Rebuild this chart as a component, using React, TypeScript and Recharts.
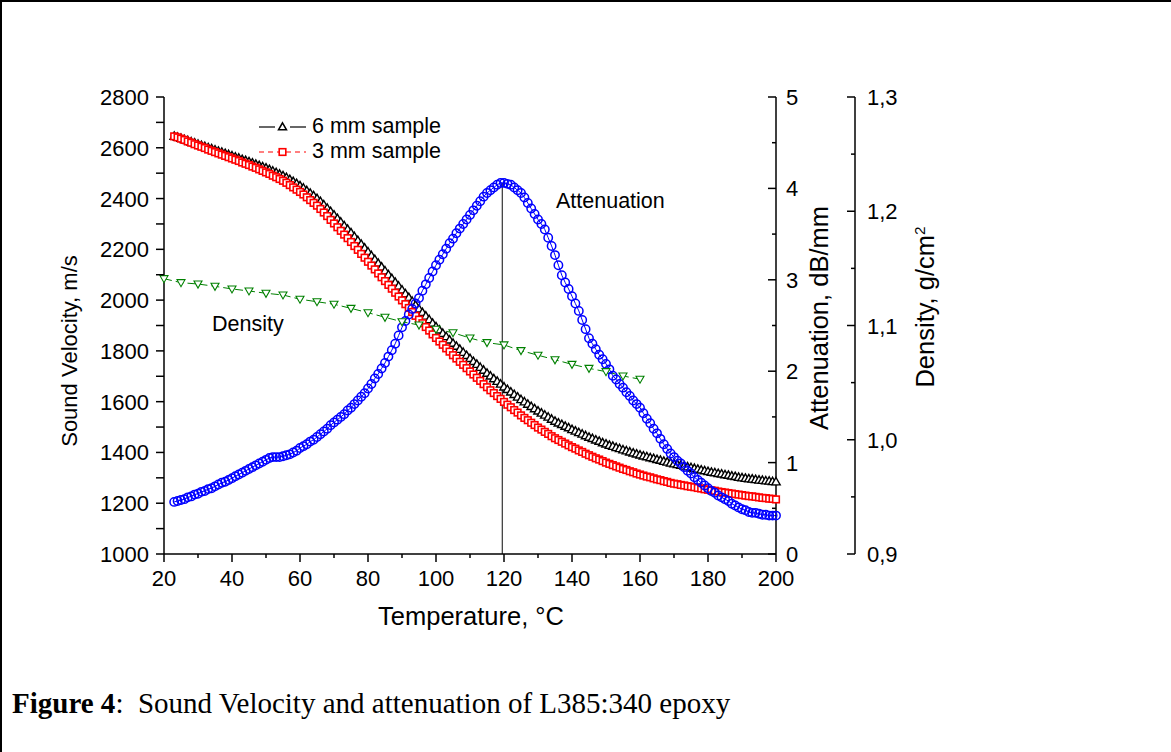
import { LineChart, Line, XAxis, YAxis, ReferenceLine, Legend } from "recharts";

// temperature grid of the velocity / attenuation scans, °C
const tempGrid = [
  23, 24, 25, 26, 27, 28, 29, 30, 31, 32, 33, 34, 35, 36, 37, 38, 39, 40, 41, 42, 43, 44, 45, 46, 47, 48, 49, 50,
  51, 52, 53, 54, 55, 56, 57, 58, 59, 60, 61, 62, 63, 64, 65, 66, 67, 68, 69, 70, 71, 72, 73, 74, 75, 76, 77, 78,
  79, 80, 81, 82, 83, 84, 85, 86, 87, 88, 89, 90, 91, 92, 93, 94, 95, 96, 97, 98, 99, 100, 101, 102, 103, 104, 105,
  106, 107, 108, 109, 110, 111, 112, 113, 114, 115, 116, 117, 118, 119, 120, 121, 122, 123, 124, 125, 126, 127, 128,
  129, 130, 131, 132, 133, 134, 135, 136, 137, 138, 139, 140, 141, 142, 143, 144, 145, 146, 147, 148, 149, 150, 151,
  152, 153, 154, 155, 156, 157, 158, 159, 160, 161, 162, 163, 164, 165, 166, 167, 168, 169, 170, 171, 172, 173, 174,
  175, 176, 177, 178, 179, 180, 181, 182, 183, 184, 185, 186, 187, 188, 189, 190, 191, 192, 193, 194, 195, 196, 197,
  198, 199, 200,
];

// sound velocity, 6 mm sample, m/s
const velocity6mm = [
  2645, 2641, 2637, 2632, 2628, 2623, 2619, 2614, 2609, 2605, 2600, 2596, 2591, 2586, 2582, 2577, 2573, 2568, 2563,
  2559, 2554, 2550, 2545, 2540, 2535, 2530, 2525, 2520, 2514, 2508, 2502, 2496, 2490, 2483, 2475, 2467, 2459, 2450,
  2441, 2431, 2421, 2411, 2400, 2388, 2375, 2362, 2349, 2335, 2321, 2307, 2293, 2279, 2265, 2250, 2235, 2220, 2205,
  2190, 2175, 2160, 2145, 2130, 2115, 2100, 2085, 2070, 2055, 2040, 2025, 2010, 1995, 1980, 1965, 1951, 1937, 1923,
  1909, 1895, 1882, 1869, 1856, 1843, 1830, 1818, 1806, 1794, 1782, 1770, 1758, 1747, 1735, 1724, 1712, 1701, 1690,
  1680, 1669, 1658, 1648, 1638, 1628, 1618, 1608, 1599, 1590, 1581, 1572, 1563, 1555, 1547, 1539, 1531, 1523, 1516,
  1510, 1503, 1497, 1490, 1484, 1478, 1472, 1466, 1460, 1455, 1449, 1444, 1438, 1433, 1428, 1424, 1419, 1415, 1410,
  1406, 1402, 1398, 1394, 1390, 1386, 1383, 1379, 1376, 1372, 1369, 1365, 1362, 1358, 1355, 1352, 1349, 1346, 1343,
  1340, 1337, 1334, 1331, 1328, 1325, 1322, 1320, 1317, 1315, 1312, 1310, 1307, 1305, 1302, 1300, 1298, 1296, 1295,
  1293, 1291, 1290, 1288, 1287, 1285, 1284,
];

// sound velocity, 3 mm sample, m/s
const velocity3mm = [
  2645, 2641, 2636, 2631, 2625, 2620, 2614, 2609, 2604, 2599, 2593, 2588, 2583, 2578, 2573, 2568, 2563, 2558, 2553,
  2548, 2542, 2537, 2532, 2526, 2521, 2515, 2509, 2503, 2497, 2490, 2484, 2477, 2470, 2462, 2453, 2444, 2435, 2426,
  2416, 2405, 2394, 2383, 2372, 2359, 2345, 2331, 2316, 2302, 2287, 2273, 2258, 2244, 2229, 2213, 2198, 2182, 2167,
  2151, 2136, 2121, 2105, 2090, 2075, 2060, 2045, 2029, 2014, 1999, 1984, 1969, 1953, 1938, 1923, 1909, 1894, 1880,
  1865, 1851, 1837, 1824, 1810, 1797, 1783, 1770, 1757, 1745, 1732, 1719, 1707, 1694, 1682, 1669, 1657, 1645, 1634,
  1622, 1611, 1599, 1588, 1578, 1567, 1557, 1546, 1536, 1527, 1517, 1508, 1498, 1490, 1481, 1473, 1464, 1456, 1449,
  1442, 1435, 1428, 1421, 1415, 1408, 1402, 1395, 1389, 1383, 1377, 1372, 1366, 1360, 1355, 1350, 1345, 1340, 1335,
  1331, 1326, 1322, 1317, 1313, 1309, 1305, 1302, 1298, 1294, 1291, 1287, 1284, 1280, 1277, 1275, 1272, 1270, 1267,
  1265, 1263, 1260, 1258, 1255, 1253, 1251, 1249, 1246, 1244, 1242, 1240, 1238, 1236, 1234, 1232, 1230, 1228, 1227,
  1225, 1223, 1221, 1220, 1218, 1217, 1215,
];

// attenuation, dB/mm
const attenuation = [
  0.57, 0.58, 0.59, 0.6, 0.62, 0.63, 0.65, 0.66, 0.68, 0.69, 0.71, 0.72, 0.74, 0.76, 0.78, 0.79, 0.81, 0.83, 0.85,
  0.87, 0.89, 0.91, 0.93, 0.95, 0.97, 0.99, 1.01, 1.03, 1.05, 1.06, 1.06, 1.06, 1.07, 1.08, 1.09, 1.11, 1.13, 1.16,
  1.18, 1.2, 1.23, 1.25, 1.28, 1.31, 1.34, 1.37, 1.41, 1.44, 1.47, 1.5, 1.53, 1.57, 1.6, 1.64, 1.68, 1.72, 1.76,
  1.81, 1.86, 1.92, 1.97, 2.03, 2.09, 2.16, 2.23, 2.3, 2.39, 2.48, 2.55, 2.62, 2.68, 2.74, 2.8, 2.88, 2.95, 3.02,
  3.09, 3.16, 3.22, 3.28, 3.34, 3.4, 3.45, 3.51, 3.56, 3.61, 3.66, 3.71, 3.76, 3.81, 3.86, 3.91, 3.95, 3.98, 4.01,
  4.04, 4.06, 4.06, 4.05, 4.04, 4.01, 3.98, 3.95, 3.9, 3.84, 3.78, 3.72, 3.66, 3.61, 3.55, 3.46, 3.37, 3.27, 3.16,
  3.05, 2.97, 2.9, 2.82, 2.74, 2.66, 2.56, 2.46, 2.36, 2.3, 2.24, 2.18, 2.13, 2.08, 2.02, 1.95, 1.91, 1.86, 1.82,
  1.77, 1.73, 1.68, 1.64, 1.6, 1.54, 1.48, 1.43, 1.37, 1.32, 1.26, 1.2, 1.15, 1.1, 1.06, 1.02, 0.99, 0.95, 0.91,
  0.88, 0.84, 0.81, 0.78, 0.75, 0.72, 0.69, 0.67, 0.64, 0.62, 0.6, 0.58, 0.55, 0.53, 0.51, 0.49, 0.48, 0.46, 0.45,
  0.45, 0.44, 0.43, 0.43, 0.42, 0.42, 0.42,
];

// density, g/cm2
const densityTemps = [20, 25, 30, 35, 40, 45, 50, 55, 60, 65, 70, 75, 80, 85, 90, 95, 100, 105, 110, 115, 120, 125, 130, 135, 140, 145, 150, 155, 160];
const density = [
  1.141, 1.1375, 1.1363, 1.1343, 1.132, 1.1302, 1.1282, 1.1267, 1.123, 1.1208, 1.1186, 1.115, 1.1112, 1.1072, 1.1033,
  1.1004, 1.0967, 1.0937, 1.089, 1.085, 1.083, 1.078, 1.074, 1.07, 1.066, 1.0625, 1.0596, 1.0558, 1.053,
];

const peakTemp = 119.5;
const peakAttenuation = 4.06;

const tempTicks = [20, 30, 40, 50, 60, 70, 80, 90, 100, 110, 120, 130, 140, 150, 160, 170, 180, 190, 200];
const velocityTicks = [1000, 1100, 1200, 1300, 1400, 1500, 1600, 1700, 1800, 1900, 2000, 2100, 2200, 2300, 2400, 2500, 2600, 2700, 2800];
const attenuationTicks = [0, 0.5, 1, 1.5, 2, 2.5, 3, 3.5, 4, 4.5, 5];
const densityTicks = [0.9, 0.95, 1.0, 1.05, 1.1, 1.15, 1.2, 1.25, 1.3];

const rows = tempGrid.map((t, i) => ({ t, v6: velocity6mm[i], v3: velocity3mm[i], att: attenuation[i] }));
const densityRows = densityTemps.map((t, i) => ({ t, dens: density[i] }));

const FONT = "'Liberation Sans', Arial, sans-serif";
const TICK_FS = 22;
const NOTE_FS = 21.5;
const axisLine = { stroke: "#000", strokeWidth: 1.5 };

const isMultiple = (v: number, step: number) => Math.abs(v / step - Math.round(v / step)) < 1e-6;

const bottomTick = (p: any) => {
  const v = p.payload.value;
  const major = isMultiple(v, 20);
  return (
    <g>
      <line x1={p.x} y1={p.y} x2={p.x} y2={p.y + (major ? 8 : 4)} stroke="#000" strokeWidth={1.5} />
      {major && (
        <text x={p.x} y={p.y + 32} textAnchor="middle" fontFamily={FONT} fontSize={TICK_FS} fill="#000">
          {v}
        </text>
      )}
    </g>
  );
};

const leftTick = (p: any) => {
  const v = p.payload.value;
  return (
    <g>
      <line x1={p.x - 8} y1={p.y} x2={p.x} y2={p.y} stroke="#000" strokeWidth={1.5} />
      {isMultiple(v, 200) && (
        <text x={p.x - 15} y={p.y + 8} textAnchor="end" fontFamily={FONT} fontSize={TICK_FS} fill="#000">
          {v}
        </text>
      )}
    </g>
  );
};

const attTick = (p: any) => {
  const v = p.payload.value;
  const major = isMultiple(v, 1);
  return (
    <g>
      <line x1={p.x - (major ? 8 : 4)} y1={p.y} x2={p.x} y2={p.y} stroke="#000" strokeWidth={1.5} />
      {major && (
        <text x={p.x + 10} y={p.y + 8} textAnchor="start" fontFamily={FONT} fontSize={TICK_FS} fill="#000">
          {v}
        </text>
      )}
    </g>
  );
};

const densTick = (p: any) => {
  const v = p.payload.value;
  const major = isMultiple(v, 0.1);
  return (
    <g>
      <line x1={p.x - (major ? 8 : 4)} y1={p.y} x2={p.x} y2={p.y} stroke="#000" strokeWidth={1.5} />
      {major && (
        <text x={p.x + 12} y={p.y + 8} textAnchor="start" fontFamily={FONT} fontSize={TICK_FS} fill="#000">
          {v.toFixed(1).replace(".", ",")}
        </text>
      )}
    </g>
  );
};

const triUp = (p: any) => (
  <path
    key={`b${p.index}`}
    d={`M${p.cx},${p.cy - 4.4}L${p.cx + 4.2},${p.cy + 3}L${p.cx - 4.2},${p.cy + 3}Z`}
    fill="#fff"
    stroke="#000"
    strokeWidth={1.4}
  />
);

const square = (p: any) => (
  <rect key={`r${p.index}`} x={p.cx - 3.3} y={p.cy - 3.3} width={6.6} height={6.6} fill="#fff" stroke="#ff0000" strokeWidth={1.6} />
);

const circle = (p: any) => (
  <circle key={`c${p.index}`} cx={p.cx} cy={p.cy} r={4.2} fill="none" stroke="#0000ff" strokeWidth={1.5} />
);

const triDown = (p: any) => (
  <path
    key={`g${p.index}`}
    d={`M${p.cx - 4},${p.cy - 3}L${p.cx + 4},${p.cy - 3}L${p.cx},${p.cy + 4}Z`}
    fill="#fff"
    stroke="#008000"
    strokeWidth={1.1}
  />
);

const renderLegend = () => (
  <div style={{ fontFamily: FONT, fontSize: NOTE_FS, color: "#000", lineHeight: "25px" }}>
    <div style={{ display: "flex", alignItems: "center", height: 25 }}>
      <svg width={50} height={14}>
        <line x1={0} y1={7} x2={16} y2={7} stroke="#000" strokeWidth={1.2} />
        <line x1={31} y1={7} x2={47} y2={7} stroke="#000" strokeWidth={1.2} />
        <path d="M23.5,2.8L27.5,9.8L19.5,9.8Z" fill="#fff" stroke="#000" strokeWidth={1.5} />
      </svg>
      <span style={{ marginLeft: 3 }}>6 mm sample</span>
    </div>
    <div style={{ display: "flex", alignItems: "center", height: 25 }}>
      <svg width={50} height={14}>
        <line x1={0} y1={7} x2={47} y2={7} stroke="#ff0000" strokeWidth={1.2} strokeDasharray="5 4" />
        <rect x={20.2} y={3.7} width={6.6} height={6.6} fill="#fff" stroke="#ff0000" strokeWidth={1.6} />
      </svg>
      <span style={{ marginLeft: 3 }}>3 mm sample</span>
    </div>
  </div>
);

const rotated = (cx: number, cy: number, fs: number): React.CSSProperties => ({
  position: "absolute",
  left: cx,
  top: cy,
  transform: "translate(-50%, -50%) rotate(-90deg)",
  whiteSpace: "nowrap",
  fontFamily: FONT,
  fontSize: fs,
  lineHeight: 1,
});

export default function App() {
  return (
    <div style={{ position: "absolute", left: 0, top: 0, width: 1171, height: 752, background: "#fff", overflow: "hidden" }}>
      <div
        style={{
          position: "absolute",
          left: 0,
          top: 0,
          width: 1171,
          height: 752,
          boxSizing: "border-box",
          borderLeft: "2px solid #000",
          borderTop: "2px solid #000",
        }}
      />
      <div style={{ position: "absolute", left: 0, top: 0 }}>
        <LineChart width={1171} height={752} data={rows} margin={{ top: 97, right: 216, bottom: 158, left: 0 }}>
          <XAxis
            dataKey="t"
            type="number"
            domain={[20, 200]}
            ticks={tempTicks}
            interval={0}
            tickSize={0}
            tickMargin={0}
            tickLine={false}
            tick={bottomTick}
            axisLine={axisLine}
            height={40}
          />
          <XAxis xAxisId="top" orientation="top" type="number" domain={[20, 200]} tick={false} tickLine={false} height={0} axisLine={axisLine} />
          <YAxis
            yAxisId="vel"
            type="number"
            domain={[1000, 2800]}
            ticks={velocityTicks}
            interval={0}
            tickSize={0}
            tickMargin={0}
            tickLine={false}
            tick={leftTick}
            axisLine={axisLine}
            width={164}
          />
          <YAxis
            yAxisId="att"
            orientation="right"
            type="number"
            domain={[0, 5]}
            ticks={attenuationTicks}
            interval={0}
            tickSize={0}
            tickMargin={0}
            tickLine={false}
            tick={attTick}
            axisLine={axisLine}
            width={79}
          />
          <YAxis
            yAxisId="dens"
            orientation="right"
            type="number"
            domain={[0.9, 1.3]}
            ticks={densityTicks}
            interval={0}
            tickSize={0}
            tickMargin={0}
            tickLine={false}
            tick={densTick}
            axisLine={axisLine}
            width={100}
          />
          <Legend
            layout="horizontal"
            verticalAlign="middle"
            align="center"
            content={renderLegend}
            wrapperStyle={{ top: 114, left: 259, width: 240 }}
          />
          <Line
            yAxisId="vel"
            dataKey="v6"
            name="6 mm sample"
            stroke="#000"
            strokeWidth={1}
            dot={triUp}
            activeDot={false}
            isAnimationActive={false}
          />
          <Line
            yAxisId="vel"
            dataKey="v3"
            name="3 mm sample"
            stroke="#ff0000"
            strokeWidth={1}
            strokeDasharray="5 4"
            dot={square}
            activeDot={false}
            isAnimationActive={false}
          />
          <Line
            yAxisId="att"
            dataKey="att"
            name="Attenuation"
            stroke="#0000ff"
            strokeWidth={1}
            dot={circle}
            activeDot={false}
            isAnimationActive={false}
          />
          <Line
            yAxisId="dens"
            data={densityRows}
            dataKey="dens"
            name="Density"
            stroke="#008000"
            strokeWidth={1}
            strokeDasharray="8 4"
            dot={triDown}
            activeDot={false}
            isAnimationActive={false}
          />
          <ReferenceLine
            yAxisId="att"
            segment={[
              { x: peakTemp, y: 0 },
              { x: peakTemp, y: peakAttenuation },
            ]}
            stroke="#333"
            strokeWidth={1.2}
          />
        </LineChart>
      </div>

      <div style={{ position: "absolute", left: 556, top: 201.7 - 0.49 * NOTE_FS, fontFamily: FONT, fontSize: NOTE_FS, lineHeight: 1, whiteSpace: "nowrap" }}>
        Attenuation
      </div>
      <div style={{ position: "absolute", left: 212, top: 325 - 0.49 * NOTE_FS, fontFamily: FONT, fontSize: NOTE_FS, lineHeight: 1, whiteSpace: "nowrap" }}>
        Density
      </div>

      <div
        style={{
          position: "absolute",
          left: 471,
          top: 617,
          transform: "translate(-50%, -50%)",
          fontFamily: FONT,
          fontSize: 25.5,
          lineHeight: 1,
          whiteSpace: "nowrap",
        }}
      >
        Temperature, °C
      </div>
      <div style={rotated(70, 351, 22)}>Sound Velocity, m/s</div>
      <div style={rotated(820, 318, 25.5)}>Attenuation, dB/mm</div>
      <div style={rotated(925, 307, 25.5)}>
        Density, g/cm<sup style={{ fontSize: "0.6em" }}>2</sup>
      </div>

      <div
        style={{
          position: "absolute",
          left: 12,
          top: 689,
          fontFamily: "'Liberation Serif', 'Times New Roman', serif",
          fontSize: 29,
          lineHeight: 1,
          whiteSpace: "pre",
        }}
      >
        <b>Figure 4</b>:  Sound Velocity and attenuation of L385:340 epoxy
      </div>
    </div>
  );
}
